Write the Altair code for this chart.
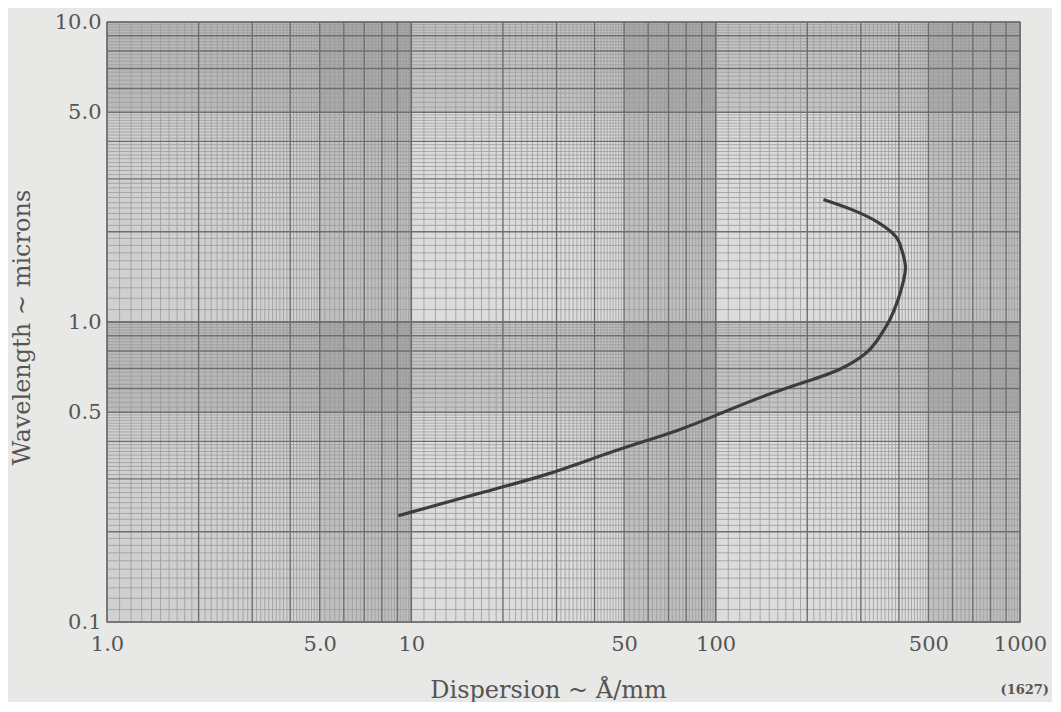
import altair as alt
import pandas as pd

# ---- curve (wavelength in microns, dispersion in Å/mm)
wavelength = [0.226, 0.270, 0.308, 0.373, 0.435, 0.508, 0.579, 0.640, 0.691, 0.788,
              0.850, 1.015, 1.200, 1.380, 1.530, 1.780, 1.920, 2.140, 2.370, 2.560]
dispersion = [9.06, 16.9, 28.0, 46.2, 76.7, 109.5, 151.7, 205, 258, 316,
              335, 376, 400, 415, 425, 406, 397, 349, 284, 226]

# ---- axis ticks
x_ticks = [1, 5, 10, 50, 100, 500, 1000]
y_ticks = [0.1, 0.5, 1, 5, 10]

# ---- graph-paper ruling (mantissas inside each decade)
x_decades = [1, 10, 100]
y_decades = [0.1, 1]
major_mant = [1, 2, 3, 4, 5, 6, 7, 8, 9, 10]
minor_mant = [1.1, 1.2, 1.3, 1.4, 1.5, 1.6, 1.7, 1.8, 1.9,
              2.1, 2.2, 2.3, 2.4, 2.5, 2.6, 2.7, 2.8, 2.9,
              3.1, 3.2, 3.3, 3.4, 3.5, 3.6, 3.7, 3.8, 3.9,
              4.1, 4.2, 4.3, 4.4, 4.5, 4.6, 4.7, 4.8, 4.9,
              5.2, 5.4, 5.6, 5.8, 6.2, 6.4, 6.6, 6.8, 7.2, 7.4, 7.6, 7.8,
              8.2, 8.4, 8.6, 8.8, 9.2, 9.4, 9.6, 9.8]

# shaded bands of the printed paper
vband_lo = [5, 50, 500]
vband_hi = [10, 100, 1000]
hband_lo = [5, 0.5]
hband_hi = [10, 1.0]

X_DOM = [1, 1000]
Y_DOM = [0.1, 10]

curve = pd.DataFrame({"lam": wavelength, "disp": dispersion, "ord": range(len(wavelength))})
xminor = pd.DataFrame({"v": [d * m for d in x_decades for m in minor_mant]})
yminor = pd.DataFrame({"v": [d * m for d in y_decades for m in minor_mant]})
xmajor = pd.DataFrame({"v": [d * m for d in x_decades for m in major_mant]})
ymajor = pd.DataFrame({"v": [d * m for d in y_decades for m in major_mant]})
vb = pd.DataFrame({"a": vband_lo, "b": vband_hi})
hb = pd.DataFrame({"a": hband_lo, "b": hband_hi})
xlb = pd.DataFrame({"a": [1], "b": [5]})

xs = alt.Scale(type="log", domain=X_DOM, nice=False)
ys = alt.Scale(type="log", domain=Y_DOM, nice=False)

x_axis = alt.Axis(values=x_ticks, title="Dispersion ~ Å/mm",
                  labelExpr="datum.value < 10 ? format(datum.value, '.1f') : format(datum.value, 'd')",
                  grid=False, ticks=False, domain=False, labelPadding=11,
                  labelFlush=False, labelOverlap=False,
                  titleX=441, titleY=68, titleBaseline="middle")
y_axis = alt.Axis(values=y_ticks, title="Wavelength ~ microns",
                  format=".1f", grid=False, ticks=False, domain=False,
                  labelPadding=6, labelFlush=False, labelOverlap=False,
                  titleX=-85, titleY=305, titleAngle=270,
                  titleAlign="center", titleBaseline="middle")

vbands = alt.Chart(vb).mark_rect(color="#000", opacity=0.13).encode(
    x=alt.X("a:Q", scale=xs, axis=x_axis), x2="b:Q",
    y=alt.value(0), y2=alt.value(600))
xlight = alt.Chart(xlb).mark_rect(color="#000", opacity=0.05).encode(
    x=alt.X("a:Q", scale=xs, axis=x_axis), x2="b:Q",
    y=alt.value(0), y2=alt.value(600))
hbands = alt.Chart(hb).mark_rect(color="#000", opacity=0.11).encode(
    y=alt.Y("a:Q", scale=ys, axis=y_axis), y2="b:Q",
    x=alt.value(0), x2=alt.value(913))

vminor = alt.Chart(xminor).mark_rule(color="#9a9a9a", strokeWidth=0.8).encode(
    x=alt.X("v:Q", scale=xs, axis=x_axis))
hminor = alt.Chart(yminor).mark_rule(color="#9a9a9a", strokeWidth=0.8).encode(
    y=alt.Y("v:Q", scale=ys, axis=y_axis))
vmajor = alt.Chart(xmajor).mark_rule(color="#6e6e6e", strokeWidth=1.4).encode(
    x=alt.X("v:Q", scale=xs, axis=x_axis))
hmajor = alt.Chart(ymajor).mark_rule(color="#6e6e6e", strokeWidth=1.4).encode(
    y=alt.Y("v:Q", scale=ys, axis=y_axis))

line = alt.Chart(curve).mark_line(color="#3c3c3c", strokeWidth=3.2,
                                  interpolate="basis").encode(
    x=alt.X("disp:Q", scale=xs, axis=x_axis),
    y=alt.Y("lam:Q", scale=ys, axis=y_axis),
    order="ord:Q")

note = alt.Chart(pd.DataFrame({"t": ["(1627)"]})).mark_text(
    font="DejaVu Serif", fontSize=13, fontWeight="bold", color="#555",
    align="right", baseline="middle").encode(
    text="t:N", x=alt.value(942), y=alt.value(668))

chart = alt.layer(xlight, vbands, hbands, vminor, hminor, vmajor, hmajor, line, note).properties(
    width=913, height=600,
    padding={"left": 99, "top": 14, "right": 32, "bottom": 80},
    autosize=alt.AutoSizeParams(type="none"),
    background="#e8e8e6",
).configure_view(stroke="#6e6e6e", strokeWidth=1.4, fill="#dcdcdc").configure_axis(
    labelFont="DejaVu Serif", labelFontSize=21, labelColor="#555",
    titleFont="DejaVu Serif", titleFontSize=24, titleColor="#555", titleFontWeight="normal")

chart.save("out.html", embed_options={"renderer": "svg", "actions": False})
